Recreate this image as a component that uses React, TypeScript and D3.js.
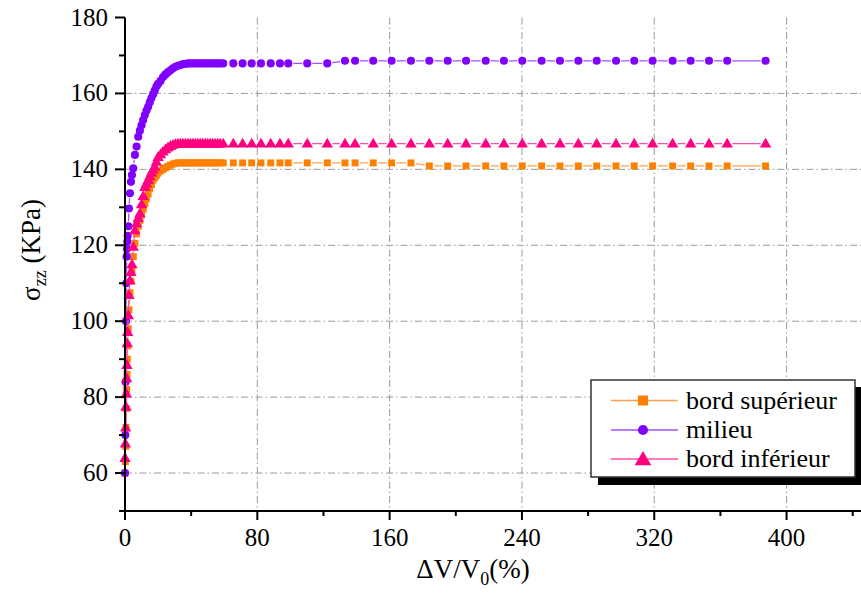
import React from 'react';
import * as d3 from 'd3';

const W = 861;
const H = 593;

// ΔV/V0 (%) values, shared by the three series
const xValues = [
  0, 0.2, 0.4, 0.6, 0.8, 1.0, 1.2, 1.4, 1.6, 2.0, 2.4, 3.0, 3.6, 4.2,
  5, 6, 7, 8, 9, 10, 11, 12, 13, 14, 15, 16, 17, 18, 19, 20,
  21.5, 23, 24.5, 26, 27.5, 29, 30.5, 32, 33.5, 35, 36.5, 38, 39.5, 41, 42.5, 44, 45.5, 47, 48.5, 50, 51.5, 53, 54.5, 56, 57.5,
  59.4, 65.5, 71.1, 76.6, 82.2, 88.1, 93.7, 98.7, 110.2, 122.3, 133.0, 139.1,
  150.1, 161.2, 172.9, 184.0, 195.1, 206.2, 218.1, 229.1, 240.2, 251.9, 263.0,
  274.1, 285.2, 296.9, 307.9, 319.0, 331.1, 342.0, 353.1, 364.1, 387.3,
];

const bordSuperieur = [
  60, 63, 67, 72, 77, 82, 86, 90, 93.5, 98, 103, 107.5, 110.5, 113.5,
  117, 120.5, 123, 125, 126.5, 128, 129.5, 131, 132.3, 133.5, 135, 136, 137.2, 137.8, 138.4, 139,
  139.6, 140, 140.4, 140.8, 141.1, 141.4, 141.6, 141.7, 141.7, 141.7, 141.7, 141.7, 141.7, 141.7, 141.7, 141.7, 141.7, 141.7, 141.7, 141.7, 141.7, 141.7, 141.7, 141.7, 141.7,
  141.7, 141.7, 141.7, 141.7, 141.7, 141.7, 141.7, 141.7, 141.7, 141.7, 141.7, 141.7,
  141.7, 141.7, 141.7, 140.9, 140.9, 140.9, 140.9, 140.9, 140.9, 140.9, 140.9,
  140.9, 140.9, 140.9, 140.9, 140.9, 140.9, 140.9, 140.9, 140.9, 140.9,
];

const milieu = [
  60, 70, 84, 100, 110, 117, 119, 121, 122.5, 125, 129.7, 133.7, 136.7, 138.5,
  140.3, 143.8, 146, 148.6, 150.2, 151.6, 153, 154.3, 155.5, 156.5, 157.7, 158.8, 159.8, 160.8, 161.8, 162.5,
  163.3, 164.3, 165, 165.6, 166.1, 166.6, 167, 167.3, 167.5, 167.7, 167.8, 167.9, 167.9, 167.9, 167.9, 167.9, 167.9, 167.9, 167.9, 167.9, 167.9, 167.9, 167.9, 167.9, 167.9,
  167.9, 167.9, 167.9, 167.9, 167.9, 167.9, 167.9, 167.9, 167.9, 167.9, 168.6, 168.6,
  168.6, 168.6, 168.6, 168.6, 168.6, 168.6, 168.6, 168.6, 168.6, 168.6, 168.6,
  168.6, 168.6, 168.6, 168.6, 168.6, 168.6, 168.6, 168.6, 168.6, 168.6,
];

const bordInferieur = [
  64, 67.8, 72, 77.5, 81, 85, 88.5, 94.2, 97.2, 101.6, 106.9, 110.8, 113, 115,
  119.6, 124, 125.8, 127.2, 128.4, 130.8, 133, 135.4, 136.3, 137.2, 138.2, 139.2, 140, 140.7, 142, 143.3,
  144, 144.7, 145.3, 145.8, 146.2, 146.5, 146.7, 146.8, 146.8, 146.8, 146.8, 146.8, 146.8, 146.8, 146.8, 146.8, 146.8, 146.8, 146.8, 146.8, 146.8, 146.8, 146.8, 146.8, 146.8,
  146.8, 146.8, 146.8, 146.8, 146.8, 146.8, 146.8, 146.8, 146.8, 146.8, 146.8, 146.8,
  146.8, 146.8, 146.8, 146.8, 146.8, 146.8, 146.8, 146.8, 146.8, 146.8, 146.8,
  146.8, 146.8, 146.8, 146.8, 146.8, 146.8, 146.8, 146.8, 146.8, 146.8,
];

const seriesNames = ['bord supérieur', 'milieu', 'bord inférieur'];
const seriesColors = ['#FF8000', '#8000FF', '#FF0080'];
const lineColors = ['#FFA04A', '#A050FF', '#FF4FA0'];

const xMajorTicks = [0, 80, 160, 240, 320, 400];
const xMinorTicks = [40, 120, 200, 280, 360, 440];
const yMajorTicks = [60, 80, 100, 120, 140, 160, 180];
const yMinorTicks = [50, 70, 90, 110, 130, 150, 170];
const yGridTicks = [60, 80, 100, 120, 140, 160];
const xGridTicks = [80, 160, 240, 320, 400];

const FONT = 'Liberation Serif';

const x = d3.scaleLinear().domain([0, 445]).range([125, 861]);
const y = d3.scaleLinear().domain([50, 180]).range([511, 17.5]);

const symbols = [d3.symbolSquare, d3.symbolCircle, d3.symbolTriangle];
const symSizes = [48, 52, 56];
const legendSymSizes = [100, 80, 120];

function segments(xs: number[], ys: number[], gap: number) {
  const segs: string[] = [];
  for (let i = 0; i < xs.length - 1; i++) {
    const x1 = x(xs[i]), y1 = y(ys[i]);
    const x2 = x(xs[i + 1]), y2 = y(ys[i + 1]);
    const dx = x2 - x1, dy = y2 - y1;
    const len = Math.hypot(dx, dy);
    if (len > 2 * gap + 1.5) {
      const ux = dx / len, uy = dy / len;
      segs.push(
        d3.line()([
          [x1 + ux * gap, y1 + uy * gap],
          [x2 - ux * gap, y2 - uy * gap],
        ]) as string
      );
    }
  }
  return segs.join('');
}

const txt = { fontFamily: FONT, fill: '#000' } as React.CSSProperties;

export default function App() {
  const data = [bordSuperieur, milieu, bordInferieur];
  const gridStyle = { stroke: '#9a9a9a', strokeWidth: 1, strokeDasharray: '7 3 1.5 3', fill: 'none' };
  const legendRows = [400.5, 430, 459];

  return (
    <svg
      width={W}
      height={H}
      style={{ position: 'absolute', left: 0, top: 0, background: '#fff' }}
    >
      <rect x={0} y={0} width={W} height={H} fill="#fff" />
      {/* grid */}
      {xGridTicks.map((t) => (
        <line key={'gx' + t} x1={x(t)} x2={x(t)} y1={y(180)} y2={y(50)} style={gridStyle} />
      ))}
      {yGridTicks.map((t) => (
        <line key={'gy' + t} x1={x(0)} x2={W} y1={y(t)} y2={y(t)} style={gridStyle} />
      ))}

      {/* series */}
      {data.map((vals, si) => (
        <g key={'s' + si}>
          <path d={segments(xValues, vals, 5)} stroke={lineColors[si]} strokeWidth={1.3} fill="none" />
          {vals.map((v, i) => (
            <path
              key={i}
              d={d3.symbol().type(symbols[si]).size(symSizes[si])() as string}
              transform={`translate(${x(xValues[i])},${y(v) + (si === 2 ? 0.8 : 0)})`}
              fill={seriesColors[si]}
            />
          ))}
        </g>
      ))}

      {/* axes */}
      <line x1={x(0)} x2={x(0)} y1={y(180)} y2={y(50)} stroke="#000" strokeWidth={2} />
      <line x1={x(0)} x2={W} y1={y(50)} y2={y(50)} stroke="#000" strokeWidth={2} />
      {yMajorTicks.map((t) => (
        <g key={'ym' + t}>
          <line x1={x(0) - 10} x2={x(0)} y1={y(t)} y2={y(t)} stroke="#000" strokeWidth={2} />
          <text x={x(0) - 17} y={y(t) + 8} textAnchor="end" fontSize={25} style={txt}>
            {t}
          </text>
        </g>
      ))}
      {yMinorTicks.map((t) => (
        <line key={'yn' + t} x1={x(0) - 6} x2={x(0)} y1={y(t)} y2={y(t)} stroke="#000" strokeWidth={2} />
      ))}
      {xMajorTicks.map((t) => (
        <g key={'xm' + t}>
          <line x1={x(t)} x2={x(t)} y1={y(50)} y2={y(50) + 9} stroke="#000" strokeWidth={2} />
          <text x={x(t)} y={y(50) + 35} textAnchor="middle" fontSize={25} style={txt}>
            {t}
          </text>
        </g>
      ))}
      {xMinorTicks.map((t) => (
        <line key={'xn' + t} x1={x(t)} x2={x(t)} y1={y(50)} y2={y(50) + 5} stroke="#000" strokeWidth={2} />
      ))}

      {/* axis titles */}
      <text x={473} y={578} textAnchor="middle" fontSize={27} style={txt}>
        ΔV/V<tspan fontSize={18} dy={7}>0</tspan>
        <tspan dy={-7}>(%)</tspan>
      </text>
      <text transform="translate(40,250) rotate(-90)" textAnchor="middle" fontSize={27} style={txt}>
        σ<tspan fontSize={18} dy={6}>zz</tspan>
        <tspan dy={-6}> (KPa)</tspan>
      </text>

      {/* legend */}
      <rect x={598} y={387} width={270} height={98} fill="#000" />
      <rect x={591} y={380} width={264} height={97} fill="#fff" stroke="#333" strokeWidth={1.5} />
      {seriesNames.map((name, i) => (
        <g key={'lg' + i}>
          <line x1={611} x2={678} y1={legendRows[i]} y2={legendRows[i]} stroke={lineColors[i]} strokeWidth={1.5} />
          <path
            d={d3.symbol().type(symbols[i]).size(legendSymSizes[i])() as string}
            transform={`translate(643,${legendRows[i] + (i === 2 ? 1.5 : 0)})`}
            fill={seriesColors[i]}
          />
          <text x={686} y={legendRows[i] + 8} fontSize={26} style={txt}>
            {name}
          </text>
        </g>
      ))}
    </svg>
  );
}
